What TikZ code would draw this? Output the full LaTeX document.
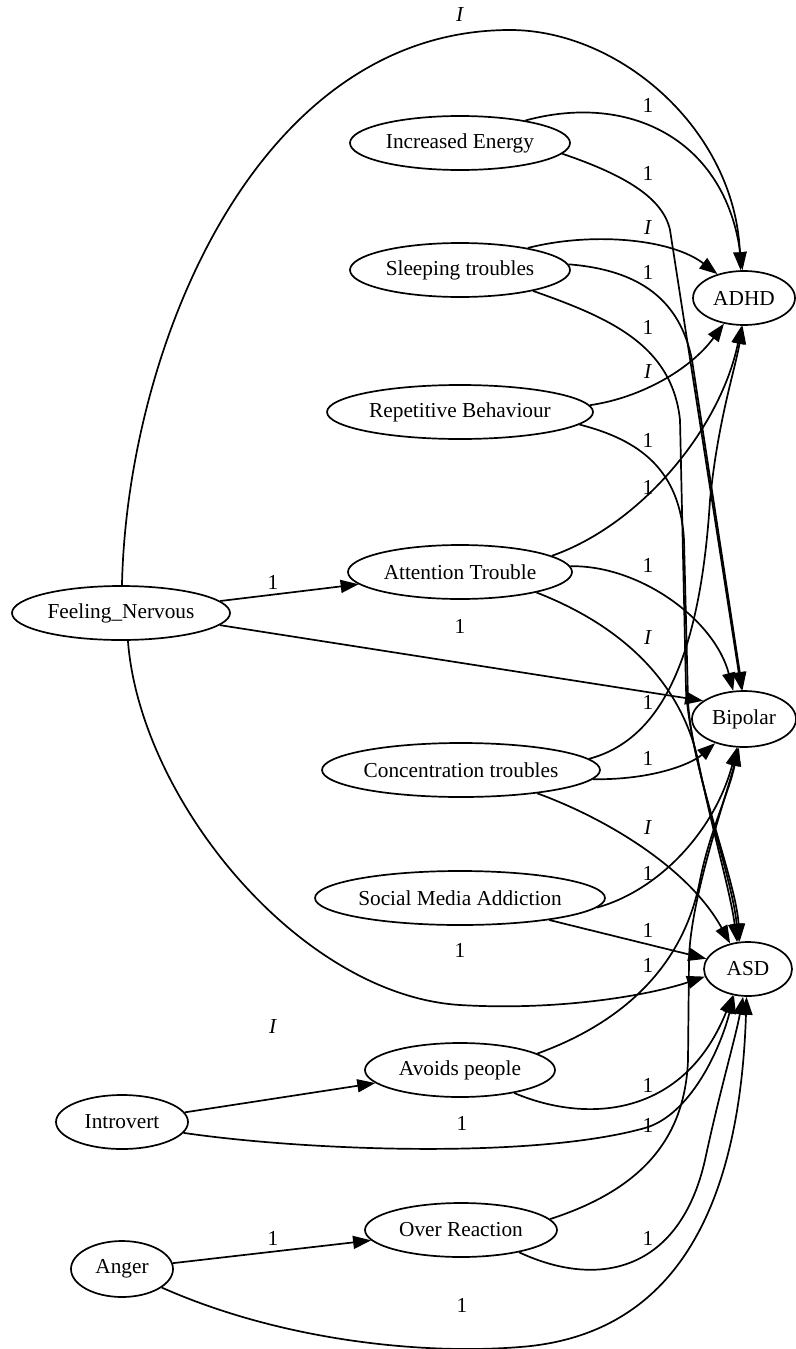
\documentclass[tikz,border=0pt]{standalone}
\usepackage{fontspec}
\setmainfont{Liberation Serif}
\usetikzlibrary{shapes.geometric,arrows.meta}
\newcommand{\labfont}{\fontsize{21.3}{25}\selectfont}
\tikzset{
  nd/.style={draw, ellipse, line width=1.7pt, inner sep=0pt, font=\labfont},
  edge/.style={line width=1.7pt, -{Triangle[length=18pt,width=13pt]}},
  lbl/.style={inner sep=0pt, font=\labfont}
}
\begin{document}
\begin{tikzpicture}[x=1pt,y=-1pt]
\fill[white] (0,0) rectangle (795,1349);
\useasboundingbox (0,0) rectangle (795,1349);
% nodes
\node[nd, minimum width=220pt, minimum height=54pt] (IE) at (460,143) {Increased Energy};
\node[nd, minimum width=220pt, minimum height=54pt] (ST) at (460,270) {Sleeping troubles};
\node[nd, minimum width=266pt, minimum height=54pt] (RB) at (460,412) {Repetitive Behaviour};
\node[nd, minimum width=224pt, minimum height=54pt] (AT) at (460,572) {Attention Trouble};
\node[nd, minimum width=218pt, minimum height=54pt] (FN) at (121,613) {Feeling\_Nervous};
\node[nd, minimum width=278pt, minimum height=54pt] (CT) at (461,770) {Concentration troubles};
\node[nd, minimum width=290pt, minimum height=54pt] (SMA) at (460,898) {Social Media Addiction};
\node[nd, minimum width=190pt, minimum height=54pt] (AP) at (460,1070) {Avoids people};
\node[nd, minimum width=132pt, minimum height=54pt] (Intro) at (122,1122) {Introvert};
\node[nd, minimum width=192pt, minimum height=54pt] (OR) at (461,1230) {Over Reaction};
\node[nd, minimum width=102pt, minimum height=56pt] (Anger) at (122,1269) {Anger};
\node[nd, minimum width=102pt, minimum height=54pt] (ADHD) at (744,298) {ADHD};
\node[nd, minimum width=104pt, minimum height=56pt] (Bipolar) at (744,719) {Bipolar};
\node[nd, minimum width=88pt, minimum height=54pt] (ASD) at (748,969) {ASD};
% edges
\draw[edge] (FN.88) .. controls (127,350) and (255,30) .. (510,30) .. controls (620,30) and (735,130) .. (ADHD.97);
\draw[edge] (IE.19) .. controls (630,92) and (725,140) .. (ADHD.93);
\draw[edge] (IE.-6) .. controls (625,175) and (663,198) .. (670,230) -- (Bipolar.95);
\draw[edge] (ST.18) .. controls (590,232) and (670,238) .. (ADHD.138);
\draw[edge] (ST.3) .. controls (640,270) and (680,300) .. (692,360) -- (Bipolar.93);
\draw[edge] (ST.-16) .. controls (610,318) and (672,345) .. (680,420) -- (686,690) .. controls (690,760) and (733,880) .. (ASD.110);
\draw[edge] (RB.3) .. controls (640,398) and (690,370) .. (ADHD.-128);
\draw[edge] (RB.-6) .. controls (640,440) and (680,470) .. (684,540) -- (688,700) .. controls (691,770) and (736,880) .. (ASD.107);
\draw[edge] (AT.10) .. controls (640,525) and (720,430) .. (ADHD.-95);
\draw[edge] (AT.3) .. controls (640,565) and (715,620) .. (Bipolar.111);
\draw[edge] (AT.-15) .. controls (620,625) and (680,680) .. (698,760) .. controls (712,830) and (730,890) .. (ASD.112);
\draw[edge] (FN) -- (AT);
\draw[edge] (FN.-7) -- (Bipolar.156);
\draw[edge] (CT.5) .. controls (660,740) and (700,660) .. (710,500) .. controls (718,420) and (735,370) .. (ADHD.-93);
\draw[edge] (CT.-4) .. controls (650,780) and (690,765) .. (Bipolar.220);
\draw[edge] (CT.-17) .. controls (610,820) and (690,870) .. (ASD.125);
\draw[edge] (SMA.-4) .. controls (660,890) and (715,830) .. (Bipolar.-104);
\draw[edge] (SMA) -- (ASD);
\draw[edge] (FN.-76) .. controls (140,800) and (300,995) .. (460,1005) .. controls (560,1011) and (650,995) .. (ASD.190);
\draw[edge] (AP.12) .. controls (630,1020) and (685,960) .. (700,880) .. controls (710,830) and (730,790) .. (Bipolar.-102);
\draw[edge] (Intro) -- (AP);
\draw[edge] (AP.-23) .. controls (590,1125) and (685,1115) .. (ASD.-120);
\draw[edge] (Intro.-10) .. controls (300,1150) and (530,1160) .. (645,1128) .. controls (690,1115) and (720,1050) .. (ASD.-118);
\draw[edge] (OR.7) .. controls (640,1190) and (685,1140) .. (688,1060) -- (689,960) .. controls (690,900) and (725,800) .. (Bipolar.-100);
\draw[edge] (Anger) -- (OR);
\draw[edge] (OR.-21) .. controls (600,1290) and (680,1270) .. (705,1160) .. controls (720,1090) and (735,1040) .. (ASD.-100);
\draw[edge] (Anger.-25) .. controls (280,1340) and (420,1355) .. (520,1347) .. controls (680,1335) and (740,1200) .. (ASD.-93);
% labels
\node[lbl] (l1) at (460,15) {\textit{I}};
\node[lbl] (l2) at (648,105) {1};
\node[lbl] (l3) at (648,173) {1};
\node[lbl] (l4) at (648,228) {\textit{I}};
\node[lbl] (l5) at (648,272) {1};
\node[lbl] (l6) at (648,327) {1};
\node[lbl] (l7) at (648,372) {\textit{I}};
\node[lbl] (l8) at (648,440) {1};
\node[lbl] (l9) at (648,487) {1};
\node[lbl] (l10) at (273,582) {1};
\node[lbl] (l11) at (648,565) {1};
\node[lbl] (l12) at (460,626) {1};
\node[lbl] (l13) at (648,638) {\textit{I}};
\node[lbl] (l14) at (648,702) {1};
\node[lbl] (l15) at (648,758) {1};
\node[lbl] (l16) at (648,828) {\textit{I}};
\node[lbl] (l17) at (648,873) {1};
\node[lbl] (l18) at (648,930) {1};
\node[lbl] (l19) at (460,950) {1};
\node[lbl] (l20) at (648,965) {1};
\node[lbl] (l21) at (273,1027) {\textit{I}};
\node[lbl] (l22) at (648,1085) {1};
\node[lbl] (l23) at (462,1123) {1};
\node[lbl] (l24) at (648,1125) {1};
\node[lbl] (l25) at (273,1238) {1};
\node[lbl] (l26) at (648,1238) {1};
\node[lbl] (l27) at (462,1305) {1};
\end{tikzpicture}
\end{document}
